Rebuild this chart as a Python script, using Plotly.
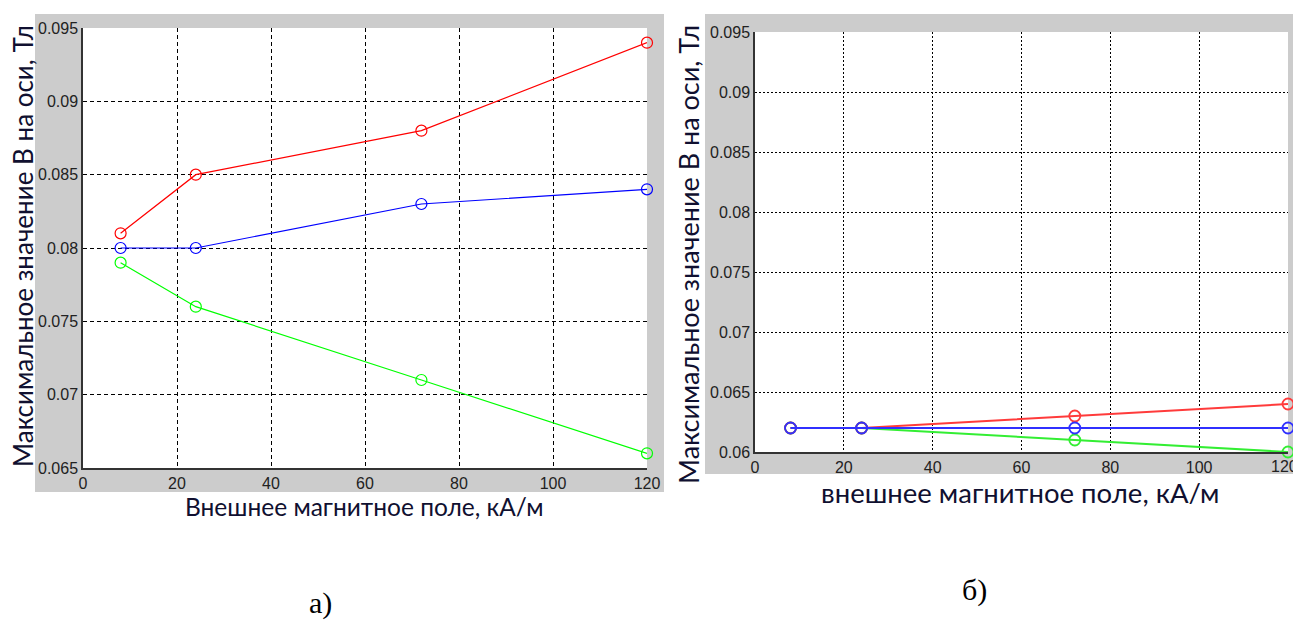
import plotly.graph_objects as go

# the page body has an 8px margin, so the figure is laid out 8px in from the corner
OFF = 8
W, H = 1301 - OFF, 624 - OFF

# ---- data ----
field_kAm = [8, 24, 72, 120]
left_red = [0.081, 0.085, 0.088, 0.094]
left_blue = [0.080, 0.080, 0.083, 0.084]
left_green = [0.079, 0.076, 0.071, 0.066]

right_red = [0.062, 0.062, 0.063, 0.064]
right_green = [0.062, 0.062, 0.061, 0.060]
right_blue = [0.062, 0.062, 0.062, 0.062]

x_ticks = [0, 20, 40, 60, 80, 100, 120]
x_labels = ["0", "20", "40", "60", "80", "100", "120"]
left_y_ticks = [0.065, 0.07, 0.075, 0.08, 0.085, 0.09, 0.095]
left_y_labels = ["0.065", "0.07", "0.075", "0.08", "0.085", "0.09", "0.095"]
right_y_ticks = [0.06, 0.065, 0.07, 0.075, 0.08, 0.085, 0.09, 0.095]
right_y_labels = ["0.06", "0.065", "0.07", "0.075", "0.08", "0.085", "0.09", "0.095"]

y_title = "Максимальное значение В на оси, Тл"
x_title_left = "Внешнее магнитное поле, кА/м"
x_title_right = "внешнее магнитное поле, кА/м"


def px(x):
    return (x - OFF) / W


def py(y):
    return 1 - (y - OFF) / H


fig = go.Figure()

tick_font = dict(family="Liberation Sans, Arial, sans-serif", size=16, color="#222222")

# left panel traces
for ys, col in [(left_red, "#ff0000"), (left_blue, "#0000ff"), (left_green, "#00ff00")]:
    fig.add_trace(go.Scatter(x=field_kAm, y=ys, mode="lines+markers", xaxis="x", yaxis="y",
                             line=dict(color=col, width=1.2),
                             marker=dict(symbol="circle-open", size=11, color=col, line=dict(width=1.2)),
                             showlegend=False, cliponaxis=False))

# right panel traces
for ys, col in [(right_green, "#33ee33"), (right_red, "#ff3b3b"), (right_blue, "#3030ff")]:
    fig.add_trace(go.Scatter(x=field_kAm, y=ys, mode="lines+markers", xaxis="x2", yaxis="y2",
                             line=dict(color=col, width=2),
                             marker=dict(symbol="circle-open", size=11, color=col, line=dict(width=1.8)),
                             showlegend=False, cliponaxis=False))

axis_common = dict(showline=True, linecolor="#333333", linewidth=1.5, mirror=False,
                   showgrid=True, gridcolor="#000000", gridwidth=1, automargin=False,
                   ticklabeloverflow="allow",
                   ticks="", tickfont=tick_font, zeroline=False, fixedrange=True)

# the last right-hand x label sits at the page edge; it is drawn as an annotation pulled inwards
x2_labels = x_labels[:-1] + [""]

fig.update_layout(
    width=W, height=H,
    margin=dict(l=0, r=0, t=0, b=0),
    paper_bgcolor="white",
    plot_bgcolor="white",
    xaxis=dict(domain=[px(83), px(647)], range=[0, 120], tickvals=x_ticks, ticktext=x_labels,
               anchor="y", griddash="4px,3px", **axis_common),
    yaxis=dict(domain=[py(468), py(28)], range=[0.065, 0.095], tickvals=left_y_ticks,
               ticktext=left_y_labels, anchor="x", griddash="4px,3px", **axis_common),
    xaxis2=dict(domain=[px(755), px(1288)], range=[0, 120], tickvals=x_ticks, ticktext=x2_labels,
                anchor="y2", griddash="2px,2px", **axis_common),
    yaxis2=dict(domain=[py(452), py(32)], range=[0.06, 0.095], tickvals=right_y_ticks,
                ticktext=right_y_labels, anchor="x2", griddash="2px,2px", **axis_common),
)

fig.add_annotation(text=x_labels[-1], xref="paper", yref="paper", x=px(1299), y=py(466),
                   xanchor="right", yanchor="middle", showarrow=False, borderpad=0, font=tick_font)

# gray figure backgrounds, then white plot areas on top of them
fig.add_shape(type="rect", xref="paper", yref="paper", x0=px(35), x1=px(664), y0=py(492), y1=py(14),
              fillcolor="#cccccc", line=dict(width=0), layer="below")
fig.add_shape(type="rect", xref="paper", yref="paper", x0=px(705), x1=px(1301), y0=py(474), y1=py(14),
              fillcolor="#cccccc", line=dict(width=0), layer="below")
fig.add_shape(type="rect", xref="paper", yref="paper", x0=px(83), x1=px(647), y0=py(468), y1=py(28),
              fillcolor="white", line=dict(width=0), layer="below")
fig.add_shape(type="rect", xref="paper", yref="paper", x0=px(755), x1=px(1288), y0=py(452), y1=py(32),
              fillcolor="white", line=dict(width=0), layer="below")

title_color = "#101030"
annots = [
    dict(text=y_title, x=px(23), y=py(246), textangle=-90, size=26),
    dict(text=y_title, x=px(688), y=py(255), textangle=-90, size=27),
    dict(text=x_title_left, x=px(364), y=py(506), size=24.5),
    dict(text=x_title_right, x=px(1020), y=py(492), size=27.5),
]
for a in annots:
    size = a.pop("size")
    fig.add_annotation(xref="paper", yref="paper", xanchor="center", yanchor="middle",
                       showarrow=False, borderpad=0,
                       font=dict(family="Lato, Open Sans, sans-serif", size=size, color=title_color),
                       **a)

cap_font = dict(family="Liberation Serif, Times New Roman, serif", size=30, color="black")
fig.add_annotation(text="а)", x=px(320), y=py(603), xref="paper", yref="paper",
                   xanchor="center", yanchor="middle", showarrow=False, font=cap_font)
fig.add_annotation(text="б)", x=px(975), y=py(590), xref="paper", yref="paper",
                   xanchor="center", yanchor="middle", showarrow=False, font=cap_font)

fig.write_html("out.html")
